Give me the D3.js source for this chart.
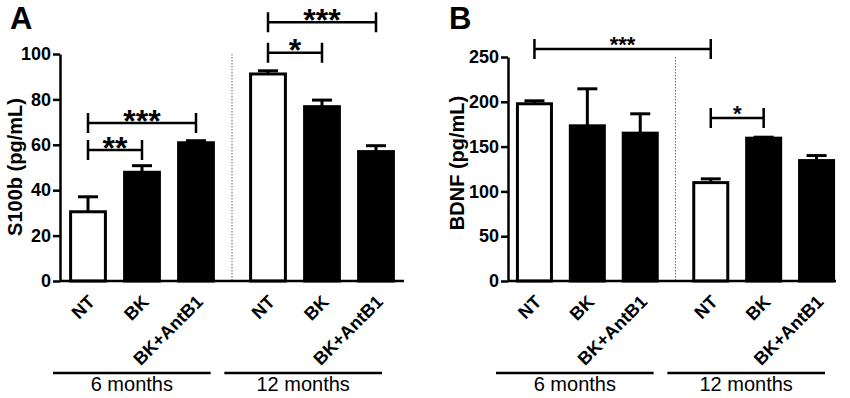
<!DOCTYPE html>
<html>
<head>
<meta charset="utf-8">
<script src="https://cdn.jsdelivr.net/npm/d3@7"></script>
<style>
  body { margin: 0; background: #fff; }
  svg { display: block; font-family: "Liberation Sans", Arial, sans-serif; }
</style>
</head>
<body>
<svg id="chart" width="850" height="398"></svg>
<script>
// Data
let groups = ["6 months", "12 months"];
let treatments = ["NT", "BK", "BK+AntB1"];

let s100bMean = [30.5, 47.9, 60.9, 91.2, 76.8, 57.0];
let s100bSem = [6.6, 2.9, 0.9, 1.4, 2.9, 2.6];
let s100bTicks = [0, 20, 40, 60, 80, 100];
// [from bar, to bar, bracket level, label]
let s100bSig = [[0, 1, 57.7, "**"], [0, 2, 69.6, "***"], [3, 4, 100.6, "*"], [3, 5, 114, "***"]];

let bdnfMean = [197.8, 173.2, 165.0, 109.8, 159.4, 134.4];
let bdnfSem = [3.3, 41.3, 21.6, 4.2, 1.1, 5.6];
let bdnfTicks = [0, 50, 100, 150, 200, 250];
let bdnfSig = [[0, 3, 259, "***"], [3, 4, 182, "*"]];

let svg = d3.select("#chart");

function drawPanel(cfg) {
  let g = svg.append("g");

  // Scales
  let y = d3.scaleLinear()
    .domain([0, d3.max(cfg.ticks)])
    .range([281, cfg.yTop]);

  let x0 = d3.scaleBand()
    .domain(groups)
    .range(cfg.barRange)
    .paddingInner(0.1)
    .paddingOuter(0);

  let x1 = d3.scaleBand()
    .domain(treatments)
    .range([0, x0.bandwidth()])
    .paddingInner(0.3)
    .paddingOuter(0.15);

  let bars = cfg.means.map((m, i) => ({
    group: groups[Math.floor(i / 3)],
    treatment: treatments[i % 3],
    mean: m,
    sem: cfg.sems[i]
  }));
  let xc = d => x0(d.group) + x1(d.treatment) + x1.bandwidth() / 2;

  // Dotted separator between the two time points
  let sepX = x0(groups[1]) - x0.step() * x0.paddingInner() / 2;
  g.append("line")
    .attr("x1", sepX).attr("x2", sepX)
    .attr("y1", y(d3.max(cfg.ticks))).attr("y2", y(0))
    .attr("stroke", "#666")
    .attr("stroke-width", 1)
    .attr("stroke-dasharray", "1.5,1.5");

  // Error bars (upper only)
  let err = g.append("g").selectAll("g")
    .data(bars)
    .enter().append("g")
    .attr("stroke", "#000")
    .attr("stroke-width", 3);
  err.append("line")
    .attr("x1", xc).attr("x2", xc)
    .attr("y1", d => y(d.mean)).attr("y2", d => y(d.mean + d.sem));
  err.append("line")
    .attr("x1", d => xc(d) - 10).attr("x2", d => xc(d) + 10)
    .attr("y1", d => y(d.mean + d.sem)).attr("y2", d => y(d.mean + d.sem));

  // Bars
  g.append("g").selectAll("rect")
    .data(bars)
    .enter().append("rect")
    .attr("x", d => x0(d.group) + x1(d.treatment) + 1.5)
    .attr("y", d => y(d.mean))
    .attr("width", x1.bandwidth() - 3)
    .attr("height", d => y(0) - y(d.mean))
    .attr("fill", d => d.treatment === "NT" ? "#fff" : "#000")
    .attr("stroke", "#000")
    .attr("stroke-width", 3);

  // Y axis
  let yAxis = g.append("g")
    .attr("transform", `translate(${cfg.axisX},0)`)
    .call(d3.axisLeft(y).tickValues(cfg.ticks).tickSize(7).tickSizeOuter(0).tickPadding(2));
  yAxis.select(".domain").attr("stroke-width", 2.5);
  yAxis.selectAll(".tick line").attr("stroke-width", 2.5);
  yAxis.selectAll(".tick text")
    .style("font-family", "Liberation Sans, Arial, sans-serif")
    .style("font-size", "18px")
    .style("font-weight", "bold")
    .attr("fill", "#000");

  // X axis line
  g.append("line")
    .attr("x1", cfg.axisX).attr("x2", cfg.axisEnd)
    .attr("y1", y(0)).attr("y2", y(0))
    .attr("stroke", "#000")
    .attr("stroke-width", 2.5);

  // Rotated category labels
  g.append("g").selectAll("text")
    .data(bars)
    .enter().append("text")
    .attr("transform", d => `translate(${xc(d) + 8},${y(0) + 22}) rotate(-45)`)
    .attr("text-anchor", "end")
    .style("font-size", "18px")
    .style("font-weight", "bold")
    .text(d => d.treatment);

  // Group underline + label
  let gx = d3.scaleBand()
    .domain(groups)
    .range(cfg.groupRange)
    .paddingInner(0.08);
  let grp = g.append("g").selectAll("g")
    .data(groups)
    .enter().append("g");
  grp.append("line")
    .attr("x1", d => gx(d)).attr("x2", d => gx(d) + gx.bandwidth())
    .attr("y1", 373).attr("y2", 373)
    .attr("stroke", "#000")
    .attr("stroke-width", 2.5);
  grp.append("text")
    .attr("x", d => gx(d) + gx.bandwidth() / 2)
    .attr("y", 391)
    .attr("text-anchor", "middle")
    .style("font-size", "20px")
    .text(d => d);

  // Significance brackets
  let sig = g.append("g").selectAll("g")
    .data(cfg.sig)
    .enter().append("g");
  sig.append("path")
    .attr("d", d => {
      let a = xc(bars[d[0]]), b = xc(bars[d[1]]), ly = y(d[2]);
      return `M${a},${ly - 10}V${ly + 10}M${a},${ly}H${b}M${b},${ly - 10}V${ly + 10}`;
    })
    .attr("fill", "none")
    .attr("stroke", "#000")
    .attr("stroke-width", 2.5);
  sig.append("text")
    .attr("x", d => (xc(bars[d[0]]) + xc(bars[d[1]])) / 2)
    .attr("y", d => y(d[2]) - 9 + cfg.starSize * 0.55)
    .attr("text-anchor", "middle")
    .style("font-size", cfg.starSize + "px")
    .style("font-weight", "bold")
    .text(d => d[3]);

  // Panel letter
  g.append("text")
    .attr("x", cfg.letterX)
    .attr("y", 29)
    .style("font-size", "31px")
    .style("font-weight", "bold")
    .text(cfg.letter);

  // Y label
  g.append("text")
    .attr("transform", `translate(${cfg.labelX},${cfg.labelY}) rotate(-90)`)
    .attr("text-anchor", "middle")
    .style("font-size", "20px")
    .style("font-weight", "bold")
    .text(cfg.label);
}

drawPanel({
  letter: "A", label: "S100b (pg/mL)",
  means: s100bMean, sems: s100bSem, ticks: s100bTicks, sig: s100bSig,
  yTop: 54, axisX: 60, axisEnd: 404, barRange: [61, 403],
  groupRange: [53, 382], starSize: 32,
  letterX: 10, labelX: 22, labelY: 167
});

drawPanel({
  letter: "B", label: "BDNF (pg/mL)",
  means: bdnfMean, sems: bdnfSem, ticks: bdnfTicks, sig: bdnfSig,
  yTop: 57, axisX: 508, axisEnd: 836, barRange: [508, 843],
  groupRange: [496, 825], starSize: 22,
  letterX: 449, labelX: 464, labelY: 163
});
</script>
</body>
</html>
